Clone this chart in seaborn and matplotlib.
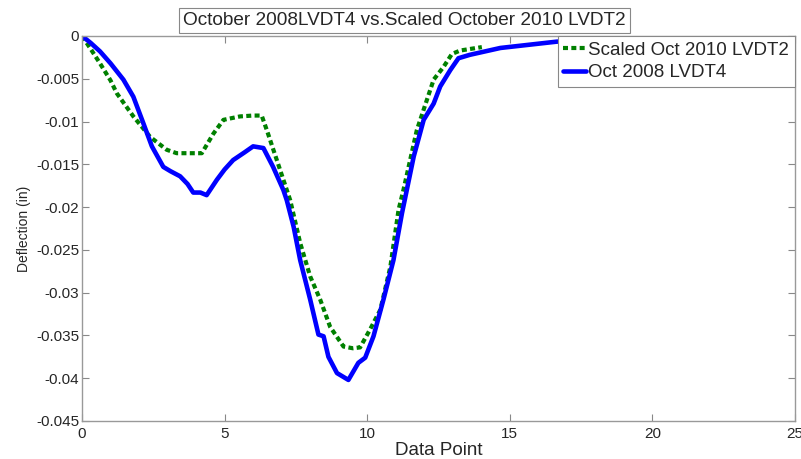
import numpy as np
import pandas as pd
import matplotlib
matplotlib.use('Agg')
import matplotlib.pyplot as plt
import seaborn as sns

# Scaled Oct 2010 LVDT2 (green, dotted)
x_2010 = [0, 0.3, 0.63, 1.0, 1.22, 1.8, 2.39, 2.97, 3.32, 3.8, 4.2, 4.61, 4.96, 5.54, 6.0, 6.3,
          6.48, 6.83, 7.18, 7.3, 7.65, 8.0, 8.35, 8.7, 9.17, 9.5, 9.75, 10.1, 10.46, 10.81,
          11.1, 11.27, 11.74, 11.98, 12.33, 12.68, 12.97, 13.26, 14.02]
y_2010 = [0, -0.0015, -0.0032, -0.0052, -0.0067, -0.0094, -0.0118, -0.0133, -0.0137, -0.0137,
          -0.0137, -0.0114, -0.0098, -0.0094, -0.0093, -0.0093,
          -0.011, -0.0145, -0.018, -0.0192, -0.0242, -0.0281, -0.0308, -0.034, -0.0363, -0.0365,
          -0.0364, -0.0343, -0.032, -0.027, -0.0203, -0.018, -0.011, -0.0086, -0.0051, -0.0036,
          -0.0021, -0.0017, -0.0013]

# Oct 2008 LVDT4 (blue, solid)
x_2008 = [0, 0.3, 0.63, 1.0, 1.45, 1.8, 2.15, 2.45, 2.85, 3.1, 3.44, 3.7, 3.9, 4.15, 4.37, 4.73,
          5.0, 5.3, 5.7, 6.0, 6.36, 6.7, 7.06, 7.18, 7.42, 7.65, 8.0, 8.29, 8.47, 8.64, 8.94,
          9.34, 9.69, 9.93, 10.22, 10.57, 10.92, 11.22, 11.63, 11.98, 12.33, 12.56, 12.91, 13.2,
          13.6, 14.67, 16.65, 18.5, 21.0]
y_2008 = [0, -0.0008, -0.0018, -0.0032, -0.0051, -0.0071, -0.0102, -0.0129, -0.0153, -0.0158,
          -0.0164, -0.0173, -0.0183, -0.0183, -0.0186, -0.0168, -0.0156, -0.0145, -0.0136,
          -0.0129, -0.0131, -0.0153, -0.018, -0.0192, -0.0223, -0.0262, -0.0308, -0.0349,
          -0.0351, -0.0375, -0.0394, -0.0402, -0.0382, -0.0376, -0.0351, -0.0308, -0.0262,
          -0.0207, -0.0141, -0.0098, -0.0079, -0.0059, -0.004, -0.0026, -0.0022, -0.0014,
          -0.00066, -0.0004, -0.0002]

x_ticks = [0, 5, 10, 15, 20, 25]
y_ticks = [0, -0.005, -0.01, -0.015, -0.02, -0.025, -0.03, -0.035, -0.04, -0.045]
y_tick_labels = ['0', '-0.005', '-0.01', '-0.015', '-0.02', '-0.025', '-0.03', '-0.035', '-0.04', '-0.045']

sns.set_style('white')
plt.rcParams['font.family'] = ['Liberation Sans', 'DejaVu Sans']
plt.rcParams['axes.unicode_minus'] = False

fig = plt.figure(figsize=(8.01, 4.59), dpi=100)
ax = fig.add_axes([0.1024, 0.0828, 0.8901, 0.8388])

df_2010 = pd.DataFrame({'x': x_2010, 'y': y_2010})
df_2008 = pd.DataFrame({'x': x_2008, 'y': y_2008})

sns.lineplot(data=df_2010, x='x', y='y', sort=False, estimator=None, color='#008000',
             linewidth=3, linestyle=(0, (1.2, 0.8)), label='Scaled Oct 2010 LVDT2', ax=ax)
sns.lineplot(data=df_2008, x='x', y='y', sort=False, estimator=None, color='#0000FF',
             linewidth=3.3, label='Oct 2008 LVDT4', ax=ax)

ax.set_xlim(0, 25)
ax.set_ylim(-0.045, 0)
ax.set_xticks(x_ticks)
ax.set_xticklabels([str(t) for t in x_ticks])
ax.set_yticks(y_ticks)
ax.set_yticklabels(y_tick_labels)
ax.tick_params(direction='in', length=5, width=0.8, color='#888888', labelsize=11,
               top=True, right=True, bottom=True, left=True, pad=2)
ax.tick_params(axis='x', pad=4)
for s in ax.spines.values():
    s.set_color('#999999')
    s.set_linewidth(1.0)

ax.set_xlabel('Data Point', fontsize=13.5, labelpad=1)
ax.set_ylabel('Deflection (in)', fontsize=10, labelpad=4)

fig.text(0.505, 0.955, 'October 2008LVDT4 vs.Scaled October 2010 LVDT2', fontsize=13.7,
         ha='center', va='center',
         bbox=dict(facecolor='white', edgecolor='#888888', boxstyle='square,pad=0.2', linewidth=0.8))

leg = ax.legend(loc='upper right', fontsize=13.5, frameon=True, fancybox=False,
                borderaxespad=0.0, handlelength=1.2, handletextpad=0.15, borderpad=0.3,
                labelspacing=0.3, framealpha=1)
leg.get_frame().set_edgecolor('#888888')
leg.get_frame().set_linewidth(0.8)

fig.savefig('out.png', dpi=100)
